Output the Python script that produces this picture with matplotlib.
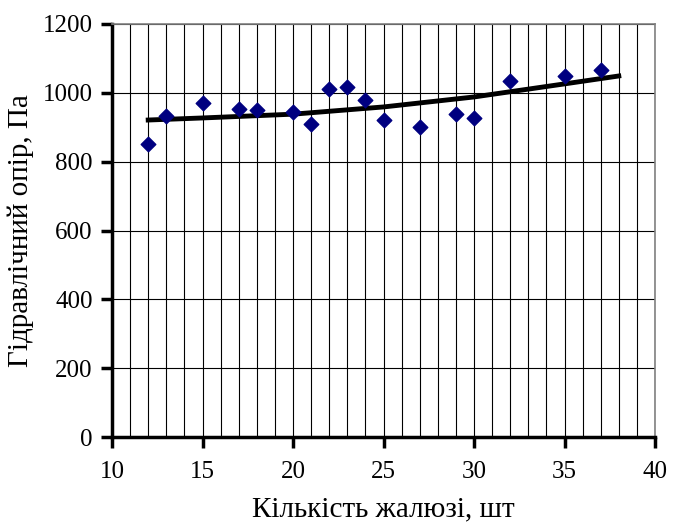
import matplotlib.pyplot as plt
import numpy as np

plt.rcParams['font.family'] = ['Liberation Serif', 'DejaVu Serif']

count = [12, 13, 15, 17, 18, 20, 21, 22, 23, 24, 25, 27, 29, 30, 32, 35, 37]
resistance = [851, 932, 970, 953, 950, 944, 909, 1011, 1017, 979, 921, 901, 938, 927, 1034, 1049, 1066]

# trend line
trend_x = [12, 15, 20, 25, 30, 35, 38]
trend_y = [921, 927, 938, 959, 988, 1026, 1049]

fig = plt.figure(figsize=(6.82, 5.31), dpi=100)
ax = fig.add_axes([112/682, 1 - 437/531, 543/682, 413/531])

ax.set_xlim(10, 40)
ax.set_ylim(0, 1200)
ax.set_xticks(np.arange(10, 41, 5))
ax.set_xticks(np.arange(10, 41, 1), minor=True)
ax.set_yticks(np.arange(0, 1201, 200))

ax.grid(True, which='minor', axis='x', color='black', lw=0.8)
ax.grid(True, which='major', axis='both', color='black', lw=0.8)
ax.set_axisbelow(True)

ax.plot(trend_x, trend_y, color='black', lw=3.5, zorder=3)
ax.scatter(count, resistance, marker='D', s=55, color='#000080', zorder=4)

for s in ['top', 'right']:
    ax.spines[s].set_color('#808080')
    ax.spines[s].set_linewidth(1.2)
for s in ['left', 'bottom']:
    ax.spines[s].set_linewidth(2.5)

ax.tick_params(axis='both', which='major', direction='out', length=8, width=2.5, labelsize=18, pad=6)
ax.tick_params(axis='x', which='minor', length=0)
ax.tick_params(axis='x', pad=9)

ax.set_xlabel('Кількість жалюзі, шт', fontsize=21, labelpad=10)
ax.set_ylabel('Гідравлічний опір, Па', fontsize=21, labelpad=6)

fig.savefig('out.png', dpi=100)
